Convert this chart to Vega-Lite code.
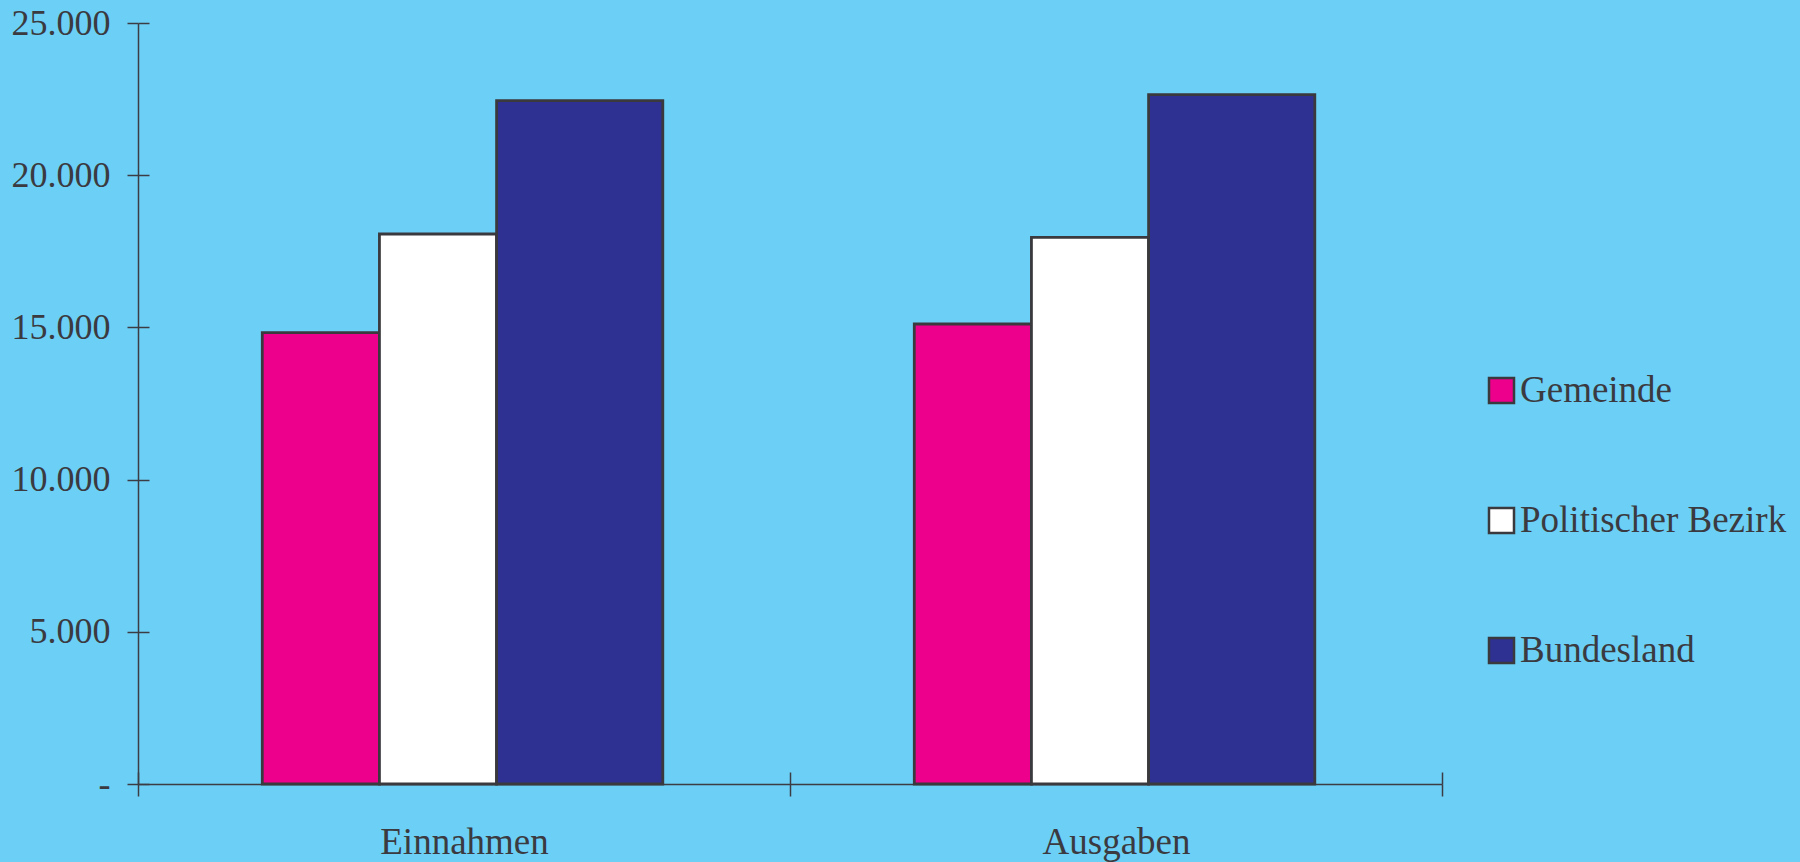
{
  "$schema": "https://vega.github.io/schema/vega-lite/v6.json",
  "width": 1304,
  "height": 761,
  "autosize": {"type": "none"},
  "padding": {"left": 138, "top": 23, "right": 358, "bottom": 78},
  "background": "#6ccff5",
  "config": {"view": {"stroke": null}, "font": "Liberation Serif"},
  "data": {
    "values": [
      {"kind": "Einnahmen", "series": "Gemeinde", "value": 14826},
      {"kind": "Einnahmen", "series": "Politischer Bezirk", "value": 18068},
      {"kind": "Einnahmen", "series": "Bundesland", "value": 22448},
      {"kind": "Ausgaben", "series": "Gemeinde", "value": 15112},
      {"kind": "Ausgaben", "series": "Politischer Bezirk", "value": 17960},
      {"kind": "Ausgaben", "series": "Bundesland", "value": 22645}
    ]
  },
  "layer": [
    {
      "transform": [{"filter": "datum.series !== 'Bundesland'"}],
      "mark": {"type": "bar", "stroke": "#3a3a3e", "strokeWidth": 2.8},
      "encoding": {
        "x": {
          "field": "kind", "type": "nominal", "sort": ["Einnahmen", "Ausgaben"],
          "scale": {"paddingInner": 0, "paddingOuter": 0},
          "axis": {"title": null, "orient": "bottom", "labelAngle": 0, "tickBand": "extent", "tickSize": 12, "tickColor": "#3c3c44", "tickWidth": 1.5,
                   "domainColor": "#3c3c44", "domainWidth": 1.5, "labelFont": "Liberation Serif", "labelFontSize": 37,
                   "labelColor": "#3a3a40", "labelBaseline": "alphabetic", "labelPadding": 57}
        },
        "xOffset": {
          "field": "series", "type": "nominal",
          "scale": {"domain": ["_a", "Gemeinde", "Politischer Bezirk", "_b"], "paddingInner": 0, "paddingOuter": 0.783, "align": 0.039}
        },
        "y": {
          "field": "value", "type": "quantitative",
          "scale": {"domain": [0, 25000], "nice": false},
          "axis": {"title": null, "orient": "left", "grid": false, "values": [0, 5000, 10000, 15000, 20000, 25000], "tickSize": 11,
                   "tickColor": "#3c3c44", "tickWidth": 1.5, "domainColor": "#3c3c44", "domainWidth": 1.5,
                   "labelFont": "Liberation Serif", "labelFontSize": 36, "labelColor": "#3a3a40", "labelPadding": 17,
                   "labelExpr": "datum.value == 0 ? '-' : replace(format(datum.value, ','), ',', '.')"}
        },
        "color": {
          "field": "series", "type": "nominal",
          "scale": {"domain": ["Gemeinde", "Politischer Bezirk", "Bundesland"], "range": ["#ec008c", "#ffffff", "#2e3192"]},
          "legend": {"title": null, "orient": "none", "legendX": 1345, "legendY": 349, "padding": 0,
                     "symbolType": "square", "symbolSize": 625, "symbolStrokeColor": "#3a3a3e", "symbolStrokeWidth": 2.5,
                     "labelFont": "Liberation Serif", "labelFontSize": 37, "labelColor": "#3a3a40", "labelOffset": 0,
                     "rowPadding": 92, "labelLimit": 400}
        }
      }
    },
    {
      "transform": [{"filter": "datum.series === 'Bundesland'"}],
      "mark": {"type": "bar", "stroke": "#3a3a3e", "strokeWidth": 2.8},
      "encoding": {
        "x": {
          "field": "kind", "type": "nominal", "sort": ["Einnahmen", "Ausgaben"],
          "scale": {"paddingInner": 0, "paddingOuter": 0},
          "axis": {"title": null, "orient": "bottom", "labels": false, "domain": false, "tickBand": "extent", "tickSize": -12, "tickColor": "#3c3c44", "tickWidth": 1.5}
        },
        "xOffset": {
          "field": "series", "type": "nominal",
          "scale": {"domain": ["_c", "_d", "Bundesland"], "paddingInner": 0, "paddingOuter": 0.4615, "align": 0.1708}
        },
        "y": {
          "field": "value", "type": "quantitative",
          "scale": {"domain": [0, 25000], "nice": false},
          "axis": {"title": null, "orient": "left", "grid": false, "labels": false, "domain": false, "values": [0, 5000, 10000, 15000, 20000, 25000],
                   "tickSize": -11, "tickColor": "#3c3c44", "tickWidth": 1.5}
        },
        "color": {
          "field": "series", "type": "nominal",
          "scale": {"domain": ["Gemeinde", "Politischer Bezirk", "Bundesland"], "range": ["#ec008c", "#ffffff", "#2e3192"]}
        }
      }
    }
  ],
  "resolve": {"scale": {"xOffset": "independent"}, "axis": {"x": "independent", "y": "independent"}}
}
